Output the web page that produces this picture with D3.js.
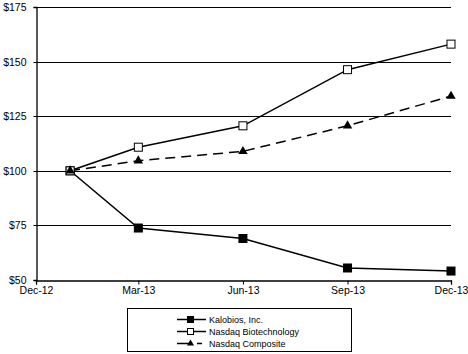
<!DOCTYPE html>
<html lang="en">
<head>
<meta charset="UTF-8">
<title>Kalobios performance</title>
<script src="https://d3js.org/d3.v7.min.js"></script>
<style>
  body { margin: 0; background: #fff; }
  svg { display: block; font-family: "Liberation Sans", Arial, sans-serif; }
</style>
</head>
<body>
<svg width="468" height="354"></svg>
<script>
// data
const dates = ['2012-12-31', '2013-03-01', '2013-06-01', '2013-09-01', '2013-12-01'];
const tickDates = ['2012-12-01', '2013-03-01', '2013-06-01', '2013-09-01', '2013-12-01'];
const kalobios = [100, 73.8, 69.0, 55.5, 54.1];
const nasdaqBio = [100, 110.8, 120.6, 146.3, 158.0];
const nasdaqComp = [100, 104.6, 108.9, 120.6, 134.2];
const yTicks = [50, 75, 100, 125, 150, 175];
const seriesNames = ['Kalobios, Inc.', 'Nasdaq Biotechnology', 'Nasdaq Composite'];

const parse = d3.timeParse('%Y-%m-%d');
const svg = d3.select('svg');

const x = d3.scaleTime()
    .domain([parse(tickDates[0]), parse(tickDates[tickDates.length - 1])])
    .range([36, 451]);
const y = d3.scaleLinear().domain([50, 175]).range([280, 7]);

// gridlines
svg.append('g')
    .selectAll('line')
    .data(yTicks.slice(1))
    .enter()
    .append('line')
    .attr('x1', 36)
    .attr('x2', 451)
    .attr('y1', d => Math.round(y(d)) + 0.5)
    .attr('y2', d => Math.round(y(d)) + 0.5)
    .style('stroke', '#000')
    .style('stroke-width', '1px');

// y axis
const yAxis = d3.axisLeft(y).tickValues(yTicks).tickSize(3).tickFormat(d => '$' + d);
const yG = svg.append('g')
    .attr('transform', 'translate(36.5,0)')
    .call(yAxis);
yG.selectAll('.tick').attr('transform', d => `translate(0,${Math.round(y(d)) + 0.5})`);

// x axis
const xAxis = d3.axisBottom(x)
    .tickValues(tickDates.map(parse))
    .tickSize(4)
    .tickFormat(d3.timeFormat('%b-%y'));
const xG = svg.append('g')
    .attr('transform', 'translate(0,280.5)')
    .call(xAxis);

[yG, xG].forEach(g => {
    g.select('.domain').style('stroke', '#000').style('stroke-width', '1.3px');
    g.selectAll('.tick line').style('stroke', '#000');
    g.selectAll('.tick text')
        .style('font-size', '10.5px')
        .style('font-family', '"Liberation Sans", Arial, sans-serif')
        .style('fill', '#000');
});
yG.selectAll('.tick text').attr('x', -10);
xG.selectAll('.tick text').attr('y', 6);

const series = [
    { name: seriesNames[0], values: kalobios, dash: null, legendDash: null, marker: 'fsq' },
    { name: seriesNames[1], values: nasdaqBio, dash: null, legendDash: null, marker: 'osq' },
    { name: seriesNames[2], values: nasdaqComp, dash: '10,6', legendDash: '13,7,5,10', marker: 'tri' }
];

const line = d3.line()
    .x((d, i) => x(parse(dates[i])))
    .y(d => y(d));

function drawMarker(g, type, cx, cy, s) {
    if (type === 'tri') {
        g.append('path')
            .attr('d', d3.symbol().type(d3.symbolTriangle).size(s * s * 0.6)())
            .attr('transform', `translate(${cx},${cy})`)
            .style('fill', '#000');
    } else {
        g.append('rect')
            .attr('x', cx - s / 2)
            .attr('y', cy - s / 2)
            .attr('width', s)
            .attr('height', s)
            .style('fill', type === 'fsq' ? '#000' : '#fff')
            .style('stroke', '#000')
            .style('stroke-width', '1px');
    }
}

series.forEach(s => {
    svg.append('path')
        .datum(s.values)
        .attr('d', line)
        .style('fill', 'none')
        .style('stroke', '#000')
        .style('stroke-width', '1.5px')
        .style('stroke-dasharray', s.dash);
});
series.forEach(s => {
    const g = svg.append('g');
    s.values.forEach((v, i) => drawMarker(g, s.marker, x(parse(dates[i])), y(v), 8));
});

// legend
const legend = svg.append('g');
legend.append('rect')
    .attr('x', 127.5)
    .attr('y', 308.5)
    .attr('width', 224)
    .attr('height', 43)
    .style('fill', '#fff')
    .style('stroke', '#000')
    .style('stroke-width', '1px');

series.forEach((s, i) => {
    const ly = 319.5 + i * 12;
    legend.append('line')
        .attr('x1', 177)
        .attr('x2', 206)
        .attr('y1', ly)
        .attr('y2', ly)
        .style('stroke', '#000')
        .style('stroke-width', '1.5px')
        .style('stroke-dasharray', s.legendDash);
    drawMarker(legend, s.marker, 190.5, ly, 6);
    legend.append('text')
        .attr('x', 209)
        .attr('y', ly)
        .attr('dy', '0.35em')
        .style('font-size', '9px')
        .text(s.name);
});
</script>
</body>
</html>
